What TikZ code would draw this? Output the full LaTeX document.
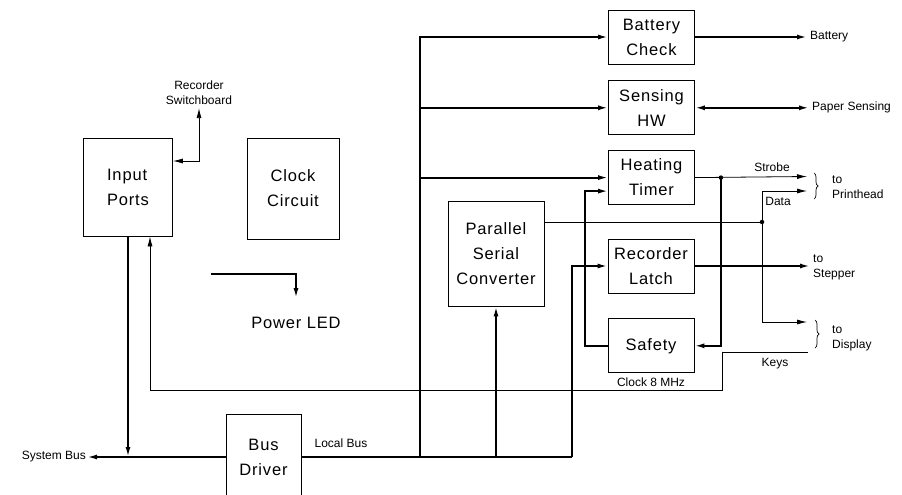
\documentclass[tikz,border=0pt]{standalone}
\usepackage{fontspec}
\setmainfont{Liberation Sans}
\newfontfamily\boxfont[LetterSpace=5]{Liberation Sans}
\usetikzlibrary{arrows.meta,positioning,decorations.pathreplacing}

\begin{document}
\begin{tikzpicture}[x=1pt,y=-1pt,
  blk/.style={draw, line width=0.8pt, align=center, inner sep=0pt,
              font={\boxfont\fontsize{16.5}{25}\selectfont},
              minimum width=86pt, minimum height=54pt},
  big/.style={font={\boxfont\fontsize{16.5}{25}\selectfont}, inner sep=0pt},
  lbl/.style={font={\fontsize{12}{15}\selectfont}, align=left, inner sep=1pt},
  sig/.style={line width=0.8pt},
  bus/.style={line width=1.8pt},
  ar/.style={-{Latex[length=10pt,width=5pt]}},
  dar/.style={{Latex[length=10pt,width=5pt]}-{Latex[length=10pt,width=5pt]}},
  jdot/.style={circle, fill, inner sep=0pt, minimum size=4.5pt},
  brc/.style={decorate, decoration={brace, amplitude=4pt}, line width=0.7pt}]

\clip (0,0) rectangle (902,495);

% right hand column
\node[blk] (bat) at (651.5,37) {Battery\\Check};
\node[blk, below=16pt of bat] (sen) {Sensing\\HW};
\node[blk, below=15pt of sen] (heat) {Heating\\Timer};
\node[blk] (latch) at (651,266) {Recorder\\Latch};
\node[blk, below=25pt of latch] (safe) {Safety};
\node[lbl, below=3pt of safe] {Clock 8 MHz};

% the other blocks
\node[blk, minimum width=96pt, minimum height=105pt] (conv) at (496,253.5) {Parallel\\Serial\\Converter};
\node[blk, minimum width=89pt, minimum height=98pt, align=left] (inp) at (128,187) {Input\\Ports};
\node[blk, minimum width=92pt, minimum height=101pt] (clk) at (293,188.5) {Clock\\Circuit};
\node[blk, minimum width=75pt, minimum height=86pt] (drv) at (263.5,457) {Bus\\Driver};
\node[big] (led) at (296,323) {Power LED};

% outside ends
\node[lbl, anchor=east] (sysb) at (87,457) {System Bus};
\node[lbl, align=center, inner sep=3pt] (rsw) at (199,93) {Recorder\\Switchboard};
\node[lbl] at (341,443) {Local Bus};
\node[lbl, anchor=west, inner sep=3pt] (batl) at (807,37) {Battery};
\node[lbl, anchor=west, inner sep=3pt] (pprl) at (809,107) {Paper Sensing};
\node[lbl, anchor=west, inner sep=3pt] (stpl) at (810,267) {to\\Stepper};
\node[lbl, anchor=west] (phl) at (831,187) {to\\Printhead};
\node[lbl, anchor=west] (dspl) at (831,338) {to\\Display};
\node[lbl] at (772,167) {Strobe};
\node[lbl] at (778,201) {Data};
\node[lbl] at (775,364) {Keys};
\coordinate (ph1) at (807,176.5);
\coordinate (ph2) at (807,191);
\coordinate (dsp) at (807,322);
\coordinate (keys) at (808,352);
\coordinate (pwr) at (211,274);
\draw[brc] (814,173) -- (814,199);
\draw[brc] (815,320) -- (815,348);

% system bus and input ports
\draw[bus,ar] (drv.west) -- (sysb.east);
\draw[bus,ar] (inp.south) -- (inp.south |- drv.west);
\draw[sig,ar] (keys) -- (722,352) -- (722,390) -| ([xshift=22pt]inp.south);
\draw[sig,dar] (rsw.south) |- ([yshift=26pt]inp.east);
\draw[bus,ar] (pwr) -| ([yshift=19pt]led.north);

% local bus
\coordinate (lb1) at (420,457);
\coordinate (lb3) at (572,457);
\draw[bus] (drv.east) -- (lb3);
\draw[bus,ar] (lb1) |- (bat.west);
\draw[bus,ar] (lb1 |- sen.west) -- (sen.west);
\draw[bus,ar] (lb1 |- heat.west) -- (heat.west);
\draw[bus,ar] (conv.south |- drv.east) -- (conv.south);
\draw[bus,ar] (lb3) |- (latch.west);

% timer / safety loop
\draw[bus,ar] (safe.west) -- ++(-23,0) |- ([yshift=-13.5pt]heat.west);
\node[jdot] (stj) at ([xshift=26pt]heat.east) {};
\draw[sig,ar] (heat.east) -- (ph1);
\draw[bus,ar] (stj.center) |- (safe.east);

% serial data
\node[jdot] (dtj) at (762,222) {};
\draw[sig] ([yshift=31.5pt]conv.east) -- (dtj.center);
\draw[sig,ar] (dtj.center) |- (ph2);
\draw[sig,ar] (dtj.center) |- (dsp);

% outputs
\draw[bus,ar] (bat.east) -- (bat.east -| batl.west);
\draw[bus,dar] (sen.east) -- (sen.east -| pprl.west);
\draw[bus,ar] (latch.east) -- (latch.east -| stpl.west);
\end{tikzpicture}
\end{document}
